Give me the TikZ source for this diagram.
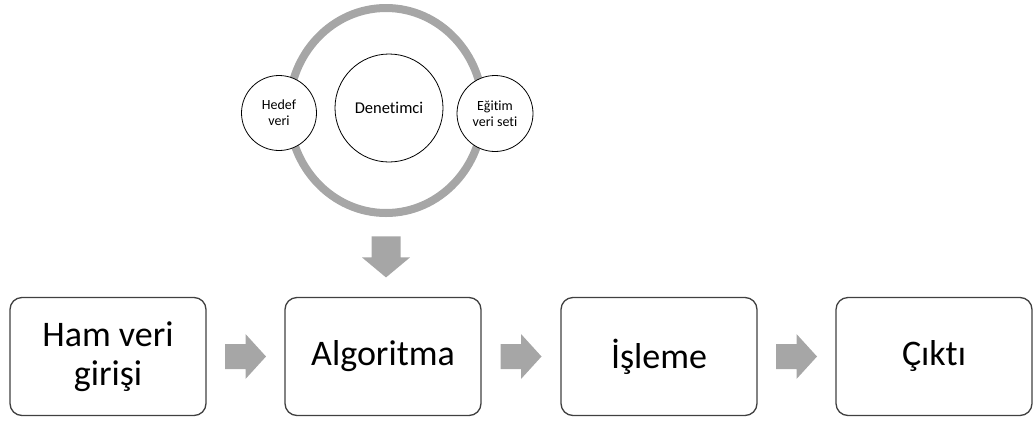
\documentclass[tikz,border=0pt]{standalone}
\usepackage{fontspec}
\setmainfont[Ligatures={NoCommon}]{Carlito}
\usetikzlibrary{shapes.geometric,calc}
\definecolor{boxline}{RGB}{64,64,64}
\definecolor{flowgray}{RGB}{166,166,166}
\begin{document}
\begin{tikzpicture}[x=1pt,y=-1pt,
  stepbox/.style={draw=boxline, line width=1.3pt, rounded corners=12pt,
    minimum width=196pt, minimum height=118pt, align=center, inner sep=0pt,
    font=\fontsize{36}{39.5}\selectfont},
  bubble/.style={circle, draw=black, fill=white, line width=0.8pt,
    align=center, inner sep=0pt},
  smalltext/.style={font=\fontsize{14}{16}\selectfont},
  rarrow/.pic={\fill[flowgray] (-20.5,-12.5) -- (0,-12.5) -- (0,-22.5)
    -- (20.5,0) -- (0,22.5) -- (0,12.5) -- (-20.5,12.5) -- cycle;},
  darrow/.pic={\fill[flowgray] (-14.5,-20.5) -- (14.5,-20.5) -- (14.5,0.5)
    -- (24,0.5) -- (0,20.5) -- (-24,0.5) -- (-14.5,0.5) -- cycle;}
]
\useasboundingbox (0,0) rectangle (1033,421);

% supervisor cycle
\node[ellipse, draw=flowgray, line width=8pt, minimum width=194pt,
  minimum height=205pt, inner sep=0pt] (ring) at (386,110.5) {};
\node[bubble, smalltext, minimum size=75pt] (hedef) at (279,113) {Hedef\\veri};
\node[bubble, minimum size=108pt, font=\fontsize{16.5}{19}\selectfont]
  (denet) at (389,108) {Denetimci};
\node[bubble, smalltext, minimum size=76pt] (egitim) at (495,113.5) {Eğitim\\veri seti};

% main process chain
\node[stepbox] (b1) at (108,356.5) {Ham veri\\girişi};
\node[stepbox] (b2) at (383,356.5) {Algoritma};
\node[stepbox] (b3) at (659,356.5) {İşleme};
\node[stepbox] (b4) at (934,356.5) {Çıktı};

% block arrows
\path (b1) -- (b2) coordinate[midway] (a1);
\path (b2) -- (b3) coordinate[midway] (a2);
\path (b3) -- (b4) coordinate[midway] (a3);
\coordinate (a0) at ($(ring.south)!0.5!(ring.south |- b2.north)$);
\pic at (a1) {rarrow};
\pic at (a2) {rarrow};
\pic at (a3) {rarrow};
\pic at (a0) {darrow};
\end{tikzpicture}
\end{document}
